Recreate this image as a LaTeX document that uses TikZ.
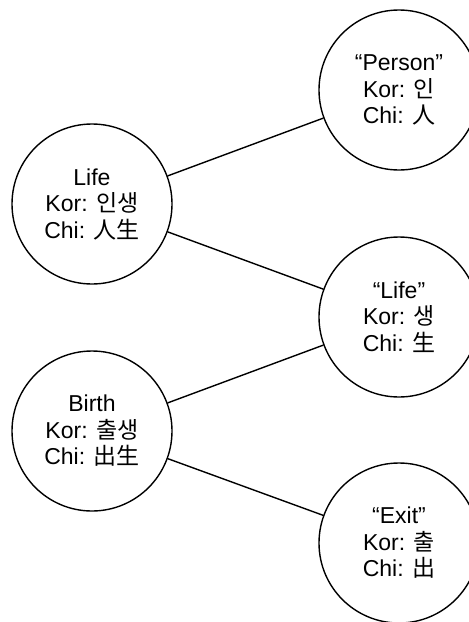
\documentclass[tikz,border=0pt]{standalone}
\usepackage{fontspec}
\setmainfont{Liberation Sans}
\newfontfamily\cjk{Noto Sans CJK KR}
\begin{document}
\begin{tikzpicture}[x=1pt,y=-1pt,
  term/.style={circle,draw,line width=1.4pt,minimum size=160pt,inner sep=0pt,
    align=center,font=\fontsize{23}{26.5}\selectfont},
  link/.style={line width=1.4pt}]
\useasboundingbox (0,0) rectangle (469,622);
\node[term] (life)   at (92,204)  {Life\\Kor: {\cjk 인생}\\Chi: {\cjk 人生}};
\node[term] (birth)  at (92,431)  {Birth\\Kor: {\cjk 출생}\\Chi: {\cjk 出生}};
\node[term] (person) at (399,90)  {“Person”\\Kor: {\cjk 인}\\Chi: {\cjk 人}};
\node[term] (lifec)  at (399,317) {“Life”\\Kor: {\cjk 생}\\Chi: {\cjk 生}};
\node[term] (exit)   at (399,543) {“Exit”\\Kor: {\cjk 출}\\Chi: {\cjk 出}};
\draw[link] (life) -- (person);
\draw[link] (life) -- (lifec);
\draw[link] (birth) -- (lifec);
\draw[link] (birth) -- (exit);
\end{tikzpicture}
\end{document}
